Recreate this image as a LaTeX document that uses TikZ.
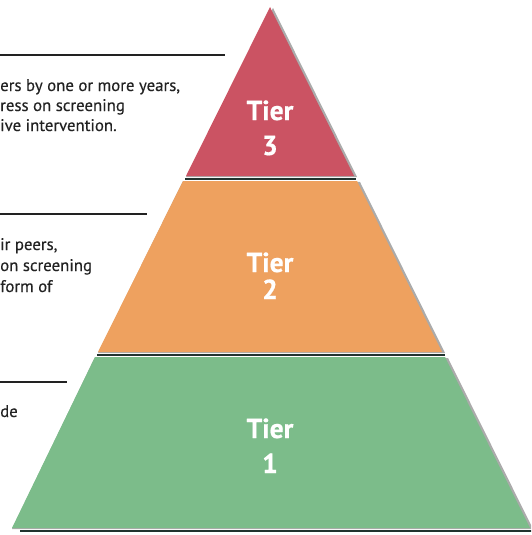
\documentclass[tikz,border=0pt]{standalone}
\usepackage{fontspec}
\setmainfont{PT Sans}
\newfontfamily\bodyfont[FakeBold=0.35]{PT Sans}
\newfontfamily\labelfont[FakeBold=0.6]{PT Sans Bold}
\definecolor{tierred}{HTML}{CB5363}
\definecolor{tierorange}{HTML}{EEA15F}
\definecolor{tiergreen}{HTML}{7CBC8A}
\definecolor{edgedark}{HTML}{22332F}
\definecolor{bodytext}{HTML}{222222}
\begin{document}
\begin{tikzpicture}[x=1pt,y=-1pt,
  tierlabel/.style={text=white, font=\labelfont\fontsize{27.5}{34}\selectfont, anchor=base, inner sep=0},
  bodyline/.style={anchor=base west, inner sep=0, text=bodytext, font=\bodyfont\fontsize{16.8}{20}\selectfont},
  rulestyle/.style={draw=bodytext, line width=1.1pt},
  tiershadow/.style={fill=black!55, opacity=0.6},
  tiersep/.style={draw=edgedark, line width=2pt}]
\useasboundingbox (0,0) rectangle (531,535);
\clip (0,0) rectangle (531,535);

% pyramid corners
\coordinate (apex) at (270,7);
\coordinate (t3l) at (186,176);  \coordinate (t3r) at (354,176);
\coordinate (t2tl) at (183,181); \coordinate (t2tr) at (357,181);
\coordinate (t2bl) at (98,352);  \coordinate (t2br) at (442,352);
\coordinate (t1tl) at (95,357);  \coordinate (t1tr) at (445,357);
\coordinate (t1bl) at (12,528);  \coordinate (t1br) at (530,528);

% soft shadows on the right edges
\fill[tiershadow] ([shift={(3,1)}]apex) -- ([shift={(3,1)}]t3r) -- ([shift={(0,1)}]t3l) -- cycle;
\fill[tiershadow] ([shift={(3,1)}]t2tr) -- ([shift={(3,1)}]t2br) -- ([shift={(0,1)}]t2bl) -- (t2tl) -- cycle;
\fill[tiershadow] ([shift={(3,1)}]t1tr) -- ([shift={(3,1)}]t1br) -- ([shift={(0,1)}]t1bl) -- (t1tl) -- cycle;

% tiers
\fill[tierred] (apex) -- (t3r) -- (t3l) -- cycle;
\fill[tierorange] (t2tl) -- (t2tr) -- (t2br) -- (t2bl) -- cycle;
\fill[tiergreen] (t1tl) -- (t1tr) -- (t1br) -- (t1bl) -- cycle;

% dark seams under each tier
\draw[tiersep] ([shift={(-1,2.5)}]t3l) -- ([shift={(2,2.5)}]t3r);
\draw[tiersep] ([shift={(-1,2.5)}]t2bl) -- ([shift={(3,2.5)}]t2br);
\draw[tiersep] ([shift={(8,3)}]t1bl) -- ([shift={(3,3)}]t1br);

% tier labels
\node[tierlabel] (tier3a) at (270,120) {Tier};
\node[tierlabel] (tier3b) at (270,155) {3};
\node[tierlabel] (tier2a) at (270,272) {Tier};
\node[tierlabel] (tier2b) at (270,299) {2};
\node[tierlabel] (tier1a) at (270,438) {Tier};
\node[tierlabel] (tier1b) at (270,473) {1};

% description rules
\coordinate (r3s) at (0,55);  \coordinate (r3e) at (225,55);
\coordinate (r2s) at (0,214); \coordinate (r2e) at (147,214);
\coordinate (r1s) at (0,382); \coordinate (r1e) at (67,382);
\draw[rulestyle] (r3s) -- (r3e);
\draw[rulestyle] (r2s) -- (r2e);
\draw[rulestyle] (r1s) -- (r1e);

% description text
\node[bodyline] (d3a) at (0,91)  {ers by one or more years,};
\node[bodyline] (d3b) at (0,111) {ress on screening};
\node[bodyline] (d3c) at (0,131) {ive intervention.};
\node[bodyline] (d2a) at (0,250) {ir peers,};
\node[bodyline] (d2b) at (0,271) {on screening};
\node[bodyline] (d2c) at (0,292) {form of};
\node[bodyline] (d1a) at (0,417) {de};
\end{tikzpicture}
\end{document}
